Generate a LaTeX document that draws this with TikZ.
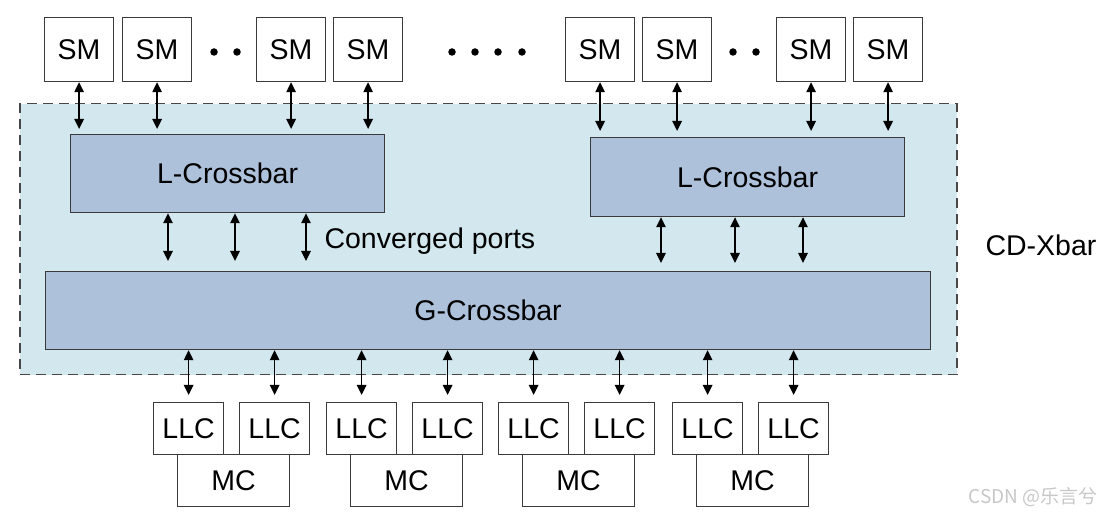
\documentclass[tikz,border=0pt]{standalone}
\usepackage{fontspec}
\setmainfont{Liberation Sans}
\newfontfamily\cjk{Noto Sans CJK SC}
\usetikzlibrary{arrows.meta,positioning,calc}
\definecolor{regionfill}{HTML}{D2E8EE}
\definecolor{xbarfill}{HTML}{ADC1DB}
\definecolor{edge}{HTML}{3A3A3A}
\begin{document}
\begin{tikzpicture}[x=1pt,y=-1pt,
  font=\fontsize{28.5}{32}\selectfont,
  box/.style={draw=edge,line width=1.2pt,fill=white,inner sep=0pt,anchor=north west},
  smbox/.style={box,minimum width=69pt,minimum height=64pt},
  llcbox/.style={box,minimum width=70pt,minimum height=52pt},
  mcbox/.style={box,minimum width=112pt,minimum height=52pt},
  xbar/.style={box,fill=xbarfill},
  biarrow/.style={line width=1.4pt,{Triangle[length=10pt,width=9.5pt]}-{Triangle[length=10pt,width=9.5pt]}},
  dotmark/.style={circle,fill=black,inner sep=0pt,minimum size=7.5pt}
]
\useasboundingbox (0,0) rectangle (1114,518);
% CD-Xbar region
\node[draw=black!72,fill=regionfill,line width=1.5pt,dash pattern=on 10pt off 6pt,
      inner sep=0pt,anchor=north west,minimum width=937pt,minimum height=271pt] (region) at (19,103) {};
\node[anchor=center] (cdx) at (1041,245) {CD-Xbar};
% crossbars
\node[xbar,minimum width=314pt,minimum height=78pt] (lcb1) at (70,134) {L-Crossbar};
\node[xbar,minimum width=314pt,minimum height=79pt] (lcb2) at (590,137) {L-Crossbar};
\node[xbar,minimum width=885pt,minimum height=78pt] (gcb) at (45,271) {G-Crossbar};
% SMs
\node[smbox] (sm1) at (44,17) {SM};
\node[smbox] (sm2) at (122,17) {SM};
\node[smbox] (sm3) at (256,17) {SM};
\node[smbox] (sm4) at (333,17) {SM};
\node[smbox] (sm5) at (565,17) {SM};
\node[smbox] (sm6) at (642,17) {SM};
\node[smbox] (sm7) at (776,17) {SM};
\node[smbox] (sm8) at (853,17) {SM};
% dots
\foreach \i/\x in {a/214,b/237,c/452,d/475,e/498,f/522,g/733,h/756}
  \node[dotmark] (dot\i) at (\x,52) {};
% SM to L-Crossbar arrows
\foreach \s in {sm1,sm2,sm3,sm4}
  \draw[biarrow] (\s.south) -- ($(\s.south |- lcb1.north)+(0,-5)$);
\foreach \s in {sm5,sm6,sm7,sm8}
  \draw[biarrow] (\s.south) -- ($(\s.south |- lcb2.north)+(0,-6)$);
% converged ports
\foreach \x [count=\k] in {168,235,306}
  \coordinate (lp\k) at (\x,212);
\foreach \k in {1,2,3}
  \draw[biarrow] (lp\k |- lcb1.south) -- ($(lp\k |- gcb.north)+(0,-10)$);
\foreach \x [count=\k] in {661,735,803}
  \coordinate (rp\k) at (\x,216);
\foreach \k in {1,2,3}
  \draw[biarrow] (rp\k |- lcb2.south) -- ($(rp\k |- gcb.north)+(0,-8)$);
\node[anchor=west] (conv) at (321,241) {Converged ports};
% LLC / MC groups
\foreach \g/\x in {1/153,2/326,3/498,4/672}{
  \node[mcbox] (mc\g) at (\x+24,454) {MC};
  \node[llcbox] (llc\g a) at (\x,402) {LLC};
  \node[llcbox] (llc\g b) at (\x+86,402) {LLC};
  \draw[biarrow] (llc\g a.north |- gcb.south) -- ($(llc\g a.north)+(0,-7)$);
  \draw[biarrow] (llc\g b.north |- gcb.south) -- ($(llc\g b.north)+(0,-7)$);
}
% watermark
\node[text=black!22,font=\cjk\fontsize{19}{22}\selectfont] (wm) at (1033,497) {CSDN @乐言兮};
\end{tikzpicture}
\end{document}
